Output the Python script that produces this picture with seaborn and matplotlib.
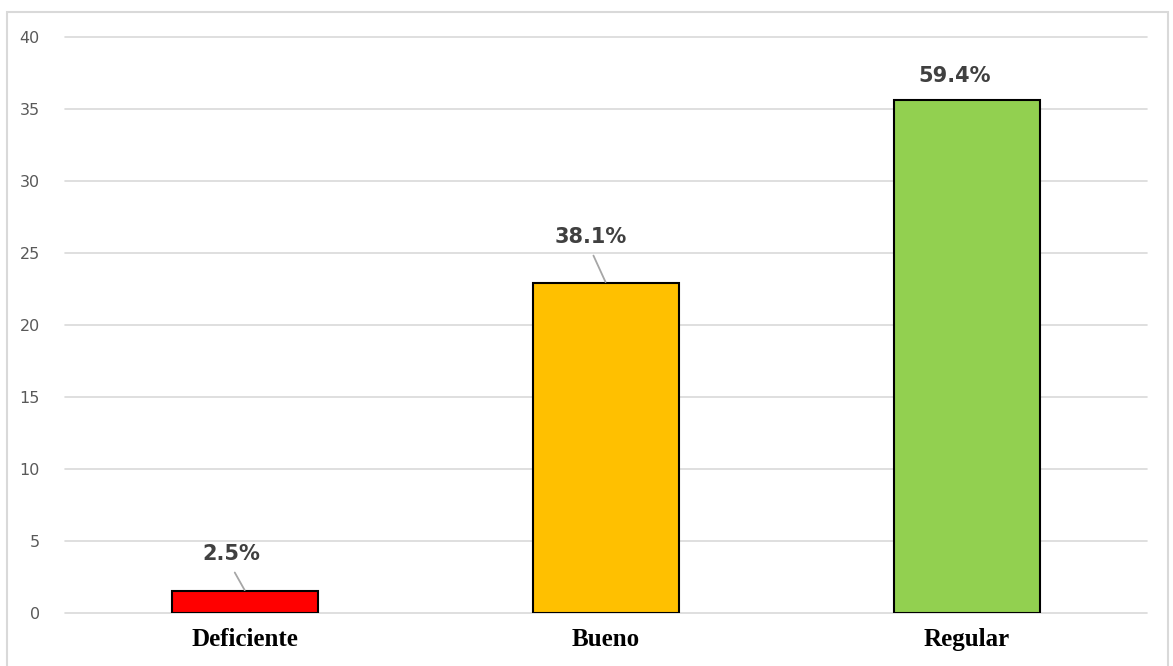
import pandas as pd
import matplotlib.pyplot as plt
import seaborn as sns
from matplotlib.patches import Rectangle

# data
categorias = ["Deficiente", "Bueno", "Regular"]
valores = [1.5, 22.9, 35.6]
porcentajes = ["2.5%", "38.1%", "59.4%"]
colores = ["#ff0000", "#ffc000", "#92d050"]

df = pd.DataFrame({"categoria": categorias, "valor": valores})

sns.set_style("white")
plt.rcParams['font.family'] = ['DejaVu Sans']

fig = plt.figure(figsize=(11.73, 6.66), dpi=100)
ax = fig.add_axes([0.0554, 0.0796, 0.9226, 0.8648])

sns.barplot(data=df, x="categoria", y="valor", hue="categoria",
            palette=colores, saturation=1, width=0.405, edgecolor="black",
            linewidth=1.5, legend=False, ax=ax, zorder=3)

ax.set_ylim(0, 40)
ax.set_xlim(-0.5, 2.5)
ax.set_yticks(range(0, 41, 5))
ax.yaxis.grid(True, color="#d9d9d9", linewidth=1.2, zorder=0)
for gl in ax.get_ygridlines():
    gl.set_clip_on(False)
ax.set_axisbelow(True)
for s in ax.spines.values():
    s.set_visible(False)
ax.set_xlabel("")
ax.set_ylabel("")
ax.tick_params(axis="y", length=0, pad=18, labelsize=11.5, labelcolor="#595959")
ax.tick_params(axis="x", length=0, pad=11, labelcolor="black")
for lab in ax.get_xticklabels():
    lab.set_fontfamily("Liberation Serif")
    lab.set_fontweight("bold")
    lab.set_fontsize(18)

# percentage labels, offsets in pixels from bar top
offsets = [(-14, 37), (-15, 46), (-12, 24)]
con_linea = [True, True, False]
for i, (v, txt) in enumerate(zip(valores, porcentajes)):
    dx, dy = offsets[i]
    arrow = None
    if con_linea[i]:
        arrow = dict(arrowstyle="-", color="#a6a6a6", linewidth=1.3,
                     relpos=(0.48, 0), shrinkA=4, shrinkB=1)
    ax.annotate(txt, xy=(i, v), xytext=(dx, dy), textcoords="offset pixels",
                ha="center", va="center", fontsize=15, fontweight="bold",
                color="#404040", arrowprops=arrow, zorder=4)

# light frame around the whole chart
fig.patches.append(Rectangle((0.006, -0.01), 0.99, 0.992, transform=fig.transFigure,
                             fill=False, edgecolor="#d9d9d9", linewidth=1.5))

plt.savefig("out.png", dpi=100)
